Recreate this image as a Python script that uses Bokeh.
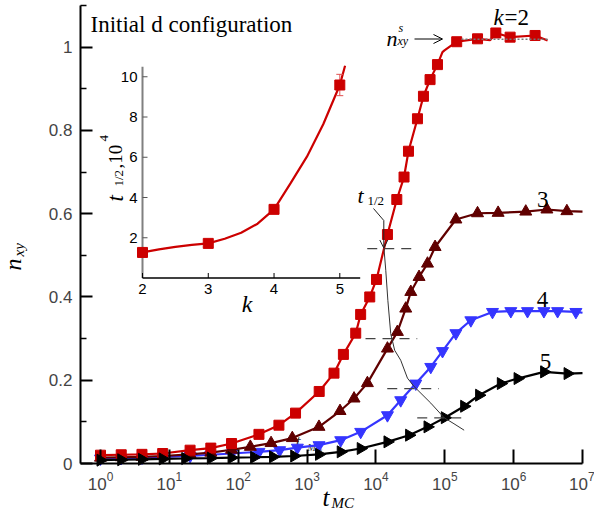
import numpy as np
from bokeh.plotting import figure
from bokeh.models import (Range1d, FixedTicker, LogTickFormatter, CustomJSTickFormatter,
                          Label, Arrow, OpenHead, LinearScale)
from bokeh.embed import file_html
from bokeh.resources import INLINE
from bokeh.core.properties import value

# ---------------- data ----------------
k2_t = [1, 2, 4, 8, 20, 40, 80, 200, 390, 680, 1500, 2460, 3370, 5090, 6000, 8130, 10200,
        14700, 20100, 25600, 29700, 40100, 49000, 61100, 78300, 149000, 299000, 551000, 889000, 2050000]
k2_n = [0.020, 0.021, 0.022, 0.024, 0.032, 0.037, 0.048, 0.070, 0.092, 0.121, 0.173, 0.217, 0.262, 0.313, 0.358, 0.400, 0.442,
        0.550, 0.634, 0.688, 0.750, 0.828, 0.882, 0.922, 0.958, 1.013, 1.020, 1.034, 1.024, 1.028]
k2_line_t = k2_t[:25] + [92500, 99000] + k2_t[25:27] + [457000] + k2_t[27:] + [3110000]
k2_line_n = k2_n[:25] + [0.988, 0.992] + k2_n[25:27] + [1.017] + k2_n[27:] + [1.016]

k3_t = [1, 2, 4, 8, 20, 40, 80, 150, 300, 610, 1490, 3010, 4810, 7520, 14700, 20500, 27100, 32100,
        42300, 56100, 72300, 145000, 299000, 595000, 1500000, 3040000, 5930000]
k3_n = [0.014, 0.015, 0.016, 0.018, 0.022, 0.026, 0.033, 0.040, 0.049, 0.061, 0.088, 0.126, 0.156, 0.193, 0.276, 0.316, 0.372, 0.412,
        0.448, 0.480, 0.520, 0.586, 0.601, 0.602, 0.605, 0.610, 0.606]
k3_line_t = k3_t + [10000000]
k3_line_n = k3_n + [0.605]

k4_t = [1, 2, 4, 8, 20, 40, 80, 200, 400, 723, 1490, 3080, 6010, 14700, 22900, 37900, 62600, 92700,
        145000, 239000, 493000, 910000, 1590000, 2750000, 4350000, 8020000]
k4_n = [0.012, 0.013, 0.014, 0.016, 0.018, 0.021, 0.024, 0.028, 0.032, 0.038, 0.044, 0.056, 0.076, 0.116, 0.152, 0.192, 0.232, 0.270,
        0.313, 0.344, 0.364, 0.366, 0.366, 0.366, 0.366, 0.364]
k4_line_t = k4_t + [10000000]
k4_line_n = k4_n + [0.362]

k5_t = [1, 2, 4, 8, 17, 40, 80, 170, 320, 650, 1490, 3080, 6010, 14700, 30300, 56100, 100000, 191000,
        315000, 651000, 1140000, 2770000, 6070000]
k5_n = [0.008, 0.009, 0.010, 0.011, 0.012, 0.013, 0.014, 0.015, 0.016, 0.018, 0.022, 0.028, 0.036, 0.052, 0.068, 0.088, 0.110, 0.1375,
        0.164, 0.192, 0.204, 0.220, 0.216]
k5_line_t = k5_t + [10000000]
k5_line_n = k5_n + [0.217]

# half-time markers on the main curves
half_lo = [7480, 7060, 14600, 39800]
half_hi = [35500, 39800, 82000, 212000]
half_n = [0.516, 0.300, 0.180, 0.1095]
# guide curve through the half points
guide_t = [13100, 13900, 14900, 16400, 18700, 22900, 28700, 35800, 62700, 97700, 136000, 191000]
guide_n = [0.516, 0.464, 0.392, 0.312, 0.272, 0.248, 0.205, 0.185, 0.145, 0.110, 0.0955, 0.080]
sat_t = [175000, 3200000]
sat_n = [1.019, 1.019]

x_ticks = [1, 10, 100, 1000, 10000, 100000, 1000000, 10000000]
y_ticks = [0, 0.2, 0.4, 0.6, 0.8, 1.0]
y_minor = [0.1, 0.3, 0.5, 0.7, 0.9, 1.1]

# inset
inset_k = [2, 3, 4, 5]
inset_t = [1.27, 1.72, 3.41, 9.59]
inset_err = [0.0, 0.0, 0.0, 0.53]
fit_k = [2.0, 2.25, 2.5, 2.75, 3.0, 3.25, 3.5, 3.75, 4.0, 4.25, 4.5, 4.75, 5.0, 5.08]
fit_t = [1.27, 1.42, 1.55, 1.65, 1.72, 1.95, 2.25, 2.7, 3.41, 4.7, 6.03, 7.65, 9.59, 10.55]
inset_xticks = [2, 3, 4, 5]
inset_yticks = [2, 4, 6, 8, 10]
inset_xlim = [2, 5.31]
inset_ylim = [0, 10.5]

RED = "#CC0000"
DRED = "#600000"
BLUE = "#3535FF"
BLACK = "#000000"
SERIF = "Liberation Serif"
SANS = "Liberation Sans"

# ---------------- geometry (pixels) ----------------
W, H = 594, 516
FL, FR, FT, FB = 80, 582, 5, 463
X0_PX = 100.0
DEC_PX = (FR - X0_PX) / 7.0


def mx(px):
    return 10 ** ((px - X0_PX) / DEC_PX)


def my(py):
    return (FB - py) / (FB - FT) * 1.1


K2_PX, KPX = 142.0, 65.77
T0_PY, TPX = 277.5, 20.125

p = figure(width=W, height=H, x_axis_type="log",
           x_range=Range1d(mx(0), mx(W)), y_range=Range1d(my(H), my(0)),
           output_backend="svg", toolbar_location=None, title=None,
           min_border=0, min_border_left=0, min_border_right=0, min_border_top=0, min_border_bottom=0)
p.outline_line_color = None
p.grid.visible = False
p.background_fill_color = "white"
p.border_fill_color = "white"

p.extra_x_ranges = {"kx": Range1d(2 - K2_PX / KPX, 2 + (W - K2_PX) / KPX)}
p.extra_y_ranges = {"ty": Range1d(-(H - T0_PY) / TPX, T0_PY / TPX)}
p.extra_x_scales = {"kx": LinearScale()}
p.extra_y_scales = {"ty": LinearScale()}

xa = p.xaxis[0]
xa.fixed_location = 0
xa.bounds = (mx(FL), 1e7)
xa.ticker = FixedTicker(ticks=x_ticks)
xa.formatter = LogTickFormatter()
xa.major_tick_in = 14
xa.major_tick_out = 0
xa.minor_tick_line_color = None
xa.axis_line_width = 2
xa.major_tick_line_width = 2
xa.major_label_text_font = SANS
xa.major_label_text_font_size = "17px"
xa.major_label_standoff = 8

ya = p.yaxis[0]
ya.fixed_location = mx(FL)
ya.bounds = (0, 1.1)
ya.ticker = FixedTicker(ticks=y_ticks, minor_ticks=y_minor)
ya.formatter = CustomJSTickFormatter(code="return (Math.round(tick*10)/10).toString()")
ya.major_tick_in = 12
ya.major_tick_out = 0
ya.minor_tick_in = 6
ya.minor_tick_out = 0
ya.axis_line_width = 2
ya.major_tick_line_width = 2
ya.minor_tick_line_width = 1.5
ya.major_label_text_font = SANS
ya.major_label_text_font_size = "17px"
ya.major_label_standoff = 8

# ghost label under the curves
p.text(x=[mx(295)], y=[my(441)], text=["t"], text_font=value(SERIF), text_font_style="italic",
       text_font_size="18px", text_color="#333333", text_baseline="alphabetic")
p.text(x=[mx(307)], y=[my(447)], text=["MC"], text_font=value(SERIF), text_font_style="italic",
       text_font_size="10px", text_color="#333333", text_baseline="alphabetic")

# ---------------- main curves ----------------
p.line(k4_line_t, k4_line_n, color=BLUE, line_width=2.2)
p.scatter(k4_t, k4_n, marker="inverted_triangle", size=12, color=BLUE)
p.line(k3_line_t, k3_line_n, color=DRED, line_width=2.2)
p.scatter(k3_t, k3_n, marker="triangle", size=12, color=DRED)
p.line(k2_line_t, k2_line_n, color=RED, line_width=2.2)
p.scatter(k2_t, k2_n, marker="square", size=10, color=RED)
p.line(k5_line_t, k5_line_n, color=BLACK, line_width=2.2)
p.scatter(k5_t, k5_n, marker="triangle", angle=-np.pi / 2, size=12, color=BLACK)

# half-time guides
p.segment(x0=half_lo, y0=half_n, x1=half_hi, y1=half_n, color="#444444", line_width=1.2, line_dash="10 7")
p.line(guide_t, guide_n, color="#333333", line_width=1)
p.line(sat_t, sat_n, color="#777777", line_width=1.5, line_dash="2 2")

# ---------------- inset ----------------
kw = dict(x_range_name="kx", y_range_name="ty")
p.segment(x0=[inset_xlim[0]], y0=[inset_ylim[0]], x1=[inset_xlim[0]], y1=[inset_ylim[1]],
          color="#808080", line_width=2, **kw)
p.segment(x0=[inset_xlim[0]], y0=[inset_ylim[0]], x1=[inset_xlim[1]], y1=[inset_ylim[0]],
          color="black", line_width=1.3, **kw)
p.segment(x0=inset_xticks, y0=[0] * len(inset_xticks), x1=inset_xticks, y1=[5 / TPX] * len(inset_xticks),
          color="black", line_width=1, **kw)
p.segment(x0=[2] * len(inset_yticks), y0=inset_yticks, x1=[2 + 5 / KPX] * len(inset_yticks), y1=inset_yticks,
          color="#555555", line_width=1, **kw)
p.text(x=inset_xticks, y=[-10.5 / TPX] * len(inset_xticks), text=[str(v) for v in inset_xticks],
       text_font=value(SANS), text_font_size="15px", text_align="center", text_baseline="middle", **kw)
p.text(x=[2 - 5 / KPX] * len(inset_yticks), y=inset_yticks, text=[str(v) for v in inset_yticks],
       text_font=value(SANS), text_font_size="15px", text_align="right", text_baseline="middle", **kw)

p.line(fit_k, fit_t, color=RED, line_width=2.2, **kw)
lo = [t - e for t, e in zip(inset_t, inset_err)]
hi = [t + e for t, e in zip(inset_t, inset_err)]
p.segment(x0=inset_k, y0=lo, x1=inset_k, y1=hi, color="#E05050", line_width=1, **kw)
p.scatter(inset_k, hi, marker="dash", size=7, color="#E05050", line_width=1, **kw)
p.scatter(inset_k, lo, marker="dash", size=7, color="#E05050", line_width=1, **kw)
p.scatter(inset_k, inset_t, marker="square", size=10, color=RED, **kw)

# ---------------- texts ----------------
SHIFT = 6  # compensation for label baseline placement


def lab(px, py, text, size, italic=False, font=SERIF, align="left", angle=0.0, color="black"):
    if angle:
        px = px - SHIFT
    else:
        py = py - SHIFT
    p.add_layout(Label(x=mx(px), y=my(py), text=text, text_font=font, text_font_size=size,
                       text_font_style="italic" if italic else "normal", text_align=align,
                       text_baseline="alphabetic", angle=angle, text_color=color))


lab(90, 30, "Initial d configuration", "23px")
# axis labels
lab(322, 503, "t", "25px", italic=True)
lab(331, 508, "MC", "15px", italic=True)
lab(18, 270, "n", "24px", italic=True, angle=np.pi / 2)
lab(24, 256, "xy", "15px", italic=True, angle=np.pi / 2)
# inset axis labels
lab(246.7, 309, "k", "24px", italic=True, align="center")
lab(121, 201, "t", "23px", italic=True, angle=np.pi / 2)
lab(124, 186, "1/2", "13px", angle=np.pi / 2)
lab(121, 168, ",10", "19px", angle=np.pi / 2)
lab(109, 141, "4", "13px", angle=np.pi / 2)
# curve labels
lab(493, 23, "k", "23px", italic=True)
lab(504, 23, "=2", "23px")
lab(542.3, 205, "3", "23px", align="center")
lab(542, 305, "4", "23px", align="center")
lab(545, 367, "5", "23px", align="center")
# t_1/2 annotation
lab(357, 201, "t", "22px", italic=True)
lab(367, 206, "1/2", "13px")
p.segment(x0=[mx(373)], y0=[my(208)], x1=[mx(383.3)], y1=[my(220)], color="#222222", line_width=1)
p.add_layout(Arrow(end=OpenHead(size=8, line_width=1, line_color="#222222"),
                   x_start=mx(383.3), y_start=my(220), x_end=mx(383.3), y_end=my(247.5),
                   line_width=1, line_color="#222222"))
# saturation label
lab(386, 43.5, "n", "22px", italic=True)
lab(398, 33, "s", "12px", italic=True)
lab(397, 46.5, "xy", "12px", italic=True)
p.add_layout(Arrow(end=OpenHead(size=9, line_width=1, line_color="black"),
                   x_start=mx(414), y_start=my(38.5), x_end=mx(442), y_end=my(38.5),
                   line_width=1, line_color="black"))

open("out.html", "w").write(file_html(p, INLINE))
